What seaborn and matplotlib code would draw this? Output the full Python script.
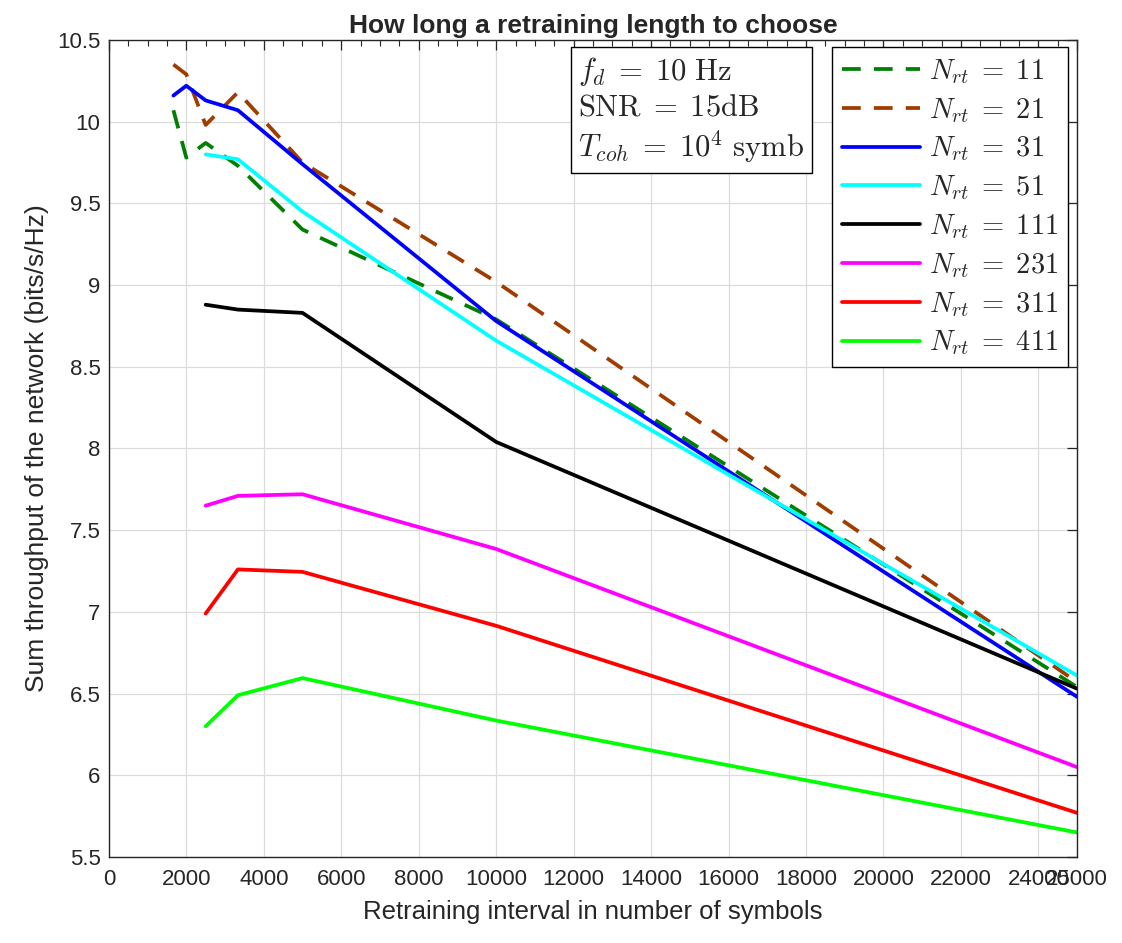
import matplotlib
matplotlib.use("Agg")
import matplotlib.pyplot as plt
from matplotlib.ticker import MultipleLocator, FixedLocator
import seaborn as sns
import pandas as pd

# ---- data ----
x_full = [1667, 2000, 2500, 3333, 5000, 10000, 25000]
x_short = [2500, 3333, 5000, 10000, 25000]

n11 = [10.07, 9.78, 9.87, 9.73, 9.34, 8.79, 6.54]
n21 = [10.35, 10.29, 9.98, 10.18, 9.75, 9.02, 6.57]
n31 = [10.16, 10.22, 10.13, 10.07, 9.74, 8.78, 6.48]
n51 = [9.80, 9.77, 9.45, 8.66, 6.61]
n111 = [8.88, 8.85, 8.83, 8.04, 6.53]
n231 = [7.65, 7.71, 7.72, 7.385, 6.05]
n311 = [6.99, 7.26, 7.245, 6.915, 5.77]
n411 = [6.30, 6.49, 6.595, 6.335, 5.65]

labels = [r"$N_{rt}\;=\;11$", r"$N_{rt}\;=\;21$", r"$N_{rt}\;=\;31$",
          r"$N_{rt}\;=\;51$", r"$N_{rt}\;=\;111$", r"$N_{rt}\;=\;231$",
          r"$N_{rt}\;=\;311$", r"$N_{rt}\;=\;411$"]

x_ticks = [0, 2000, 4000, 6000, 8000, 10000, 12000, 14000, 16000, 18000,
           20000, 22000, 24000, 25000]
y_ticks = [5.5, 6, 6.5, 7, 7.5, 8, 8.5, 9, 9.5, 10, 10.5]

title = "How long a retraining length to choose"
xlabel = "Retraining interval in number of symbols"
ylabel = "Sum throughput of the network (bits/s/Hz)"
info = "\n".join([r"$f_d\;=\;10\ \mathrm{Hz}$",
                  r"$\mathrm{SNR}\;=\;15\mathrm{dB}$",
                  r"$T_{coh}\;=\;10^4\ \mathrm{symb}$"])

series = [
    (x_full, n11, "#008000", True),
    (x_full, n21, "#a03c00", True),
    (x_full, n31, "#0000ff", False),
    (x_short, n51, "#00ffff", False),
    (x_short, n111, "#000000", False),
    (x_short, n231, "#ff00ff", False),
    (x_short, n311, "#ff0000", False),
    (x_short, n411, "#00ff00", False),
]

# ---- style ----
sns.set_theme(style="white")
plt.rcParams["font.family"] = ["Liberation Sans", "DejaVu Sans"]
plt.rcParams["mathtext.fontset"] = "cm"

fig = plt.figure(figsize=(11.22, 9.43), dpi=100)
ax = fig.add_axes([0.097, 0.0912, 0.863, 0.8664])

handles = []
for (xs, ys, color, dashed), lab in zip(series, labels):
    df = pd.DataFrame({"x": xs, "y": ys})
    sns.lineplot(data=df, x="x", y="y", color=color, lw=2.7, ax=ax,
                 sort=False, errorbar=None, label=lab)
    line = ax.lines[-1]
    if dashed:
        line.set_linestyle((0, (5, 3.5)))
    handles.append(line)

ax.set_xlim(0, 25000)
ax.set_ylim(5.5, 10.5)
ax.xaxis.set_major_locator(FixedLocator(x_ticks))
ax.set_xticklabels([str(t) for t in x_ticks])
ax.xaxis.set_minor_locator(MultipleLocator(500))
ax.yaxis.set_major_locator(FixedLocator(y_ticks))
ax.set_yticklabels([f"{t:g}" for t in y_ticks])

ax.grid(True, which="major", color="#dcdcdc", lw=0.9)
ax.set_axisbelow(True)
for s in ax.spines.values():
    s.set_visible(True)
    s.set_color("#262626")
    s.set_linewidth(1.0)
ax.tick_params(axis="both", which="both", direction="in", top=True, right=True,
               labelsize=16, colors="#262626")
ax.tick_params(axis="both", which="major", length=7, width=0.9)
ax.tick_params(axis="x", which="minor", length=4, width=0.8)
ax.tick_params(axis="y", which="minor", left=False, right=False)
for lab in ax.get_xticklabels() + ax.get_yticklabels():
    lab.set_color("#262626")
ax.tick_params(axis="x", pad=9)
ax.tick_params(axis="y", pad=6)

ax.set_title(title, fontsize=19, fontweight="bold", pad=5)
ax.set_xlabel(xlabel, fontsize=18.5, color="#262626", labelpad=7)
ax.set_ylabel(ylabel, fontsize=19, color="#262626", labelpad=6)

leg = ax.legend(handles=handles, labels=labels, loc="upper right",
                bbox_to_anchor=(0.9907, 0.9914), fontsize=20.5, frameon=True,
                fancybox=False, framealpha=1, edgecolor="black",
                handlelength=2.75, handletextpad=0.3, labelspacing=0.35,
                borderpad=0.35, borderaxespad=0)
leg.get_frame().set_linewidth(1.0)

ax.text(0.485, 0.982, info, transform=ax.transAxes, ha="left", va="top",
        fontsize=22, linespacing=1.2,
        bbox=dict(boxstyle="square,pad=0.25", facecolor="white",
                  edgecolor="black", linewidth=1.0))

fig.savefig("out.png", dpi=100)
